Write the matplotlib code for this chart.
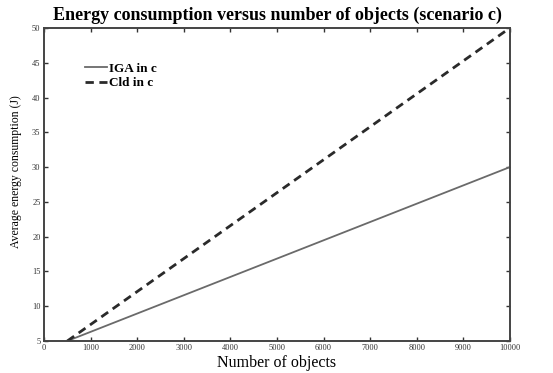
import matplotlib
matplotlib.use('Agg')
import matplotlib.pyplot as plt

# data
objects = [500, 10000]
iga_energy = [5, 30]
cld_energy = [5, 50]
xticks = [0, 1000, 2000, 3000, 4000, 5000, 6000, 7000, 8000, 9000, 10000]
yticks = [5, 10, 15, 20, 25, 30, 35, 40, 45, 50]

plt.rcParams['font.family'] = 'Liberation Serif'

fig = plt.figure(figsize=(5.53, 3.73), dpi=100)
ax = fig.add_axes([0.0796, 0.0858, 0.8424, 0.8392])

ax.plot(objects, iga_energy, color='#6a6a6a', lw=1.3, label='IGA in c')
ax.plot(objects, cld_energy, color='#2a2a2a', lw=2.0, ls=(0, (3, 2)), label='Cld in c')

ax.set_xlim(0, 10000)
ax.set_ylim(5, 50)
ax.set_xticks(xticks)
ax.set_yticks(yticks)
ax.tick_params(direction='in', top=True, right=True, labelsize=6, length=3, width=1,
               colors='#333333', pad=2.5)
for s in ax.spines.values():
    s.set_linewidth(1.4)
    s.set_color('#444444')

ax.set_title('Energy consumption versus number of objects (scenario c)',
             fontsize=13, fontweight='bold', pad=6)
ax.set_xlabel('Number of objects', fontsize=11.5)
ax.xaxis.set_label_coords(0.5, -0.045)
ax.set_ylabel('Average energy consumption (J)', fontsize=8.5)
ax.yaxis.set_label_coords(-0.048, 0.54)

leg = ax.legend(loc='upper left', bbox_to_anchor=(0.062, 0.927), frameon=False,
                prop={'weight': 'bold', 'size': 9.5}, handlelength=1.7,
                handletextpad=0.15, labelspacing=0.15)

fig.savefig('out.png', dpi=100)
